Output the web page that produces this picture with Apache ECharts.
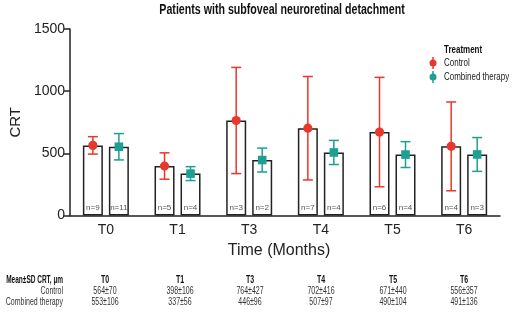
<!DOCTYPE html>
<html><head><meta charset="utf-8">
<script src="https://cdn.jsdelivr.net/npm/echarts@6/dist/echarts.min.js"></script>
<style>html,body{margin:0;padding:0;background:#fff}#c{width:512px;height:312px}</style>
</head><body><div id="c"></div>
<script>
const categories = ['T0','T1','T3','T4','T5','T6'];
const controlMean = [564, 398, 764, 702, 671, 556];
const controlSD = [70, 106, 427, 416, 440, 357];
const combinedMean = [553, 337, 446, 507, 490, 491];
const combinedSD = [106, 56, 96, 97, 104, 136];
const controlN = [9, 5, 3, 7, 6, 4];
const combinedN = [11, 4, 2, 4, 4, 3];
const yTicks = [0, 500, 1000, 1500];
const chartTitle = 'Patients with subfoveal neuroretinal detachment';
const tableHeader = 'Mean±SD CRT, µm';
const rowLabels = ['Control', 'Combined therapy'];
const legendTitle = 'Treatment';
const seriesNames = ['Control', 'Combined therapy'];

const RED = '#E8382C', TEAL = '#1E9F94';
const MAIN = "'Liberation Sans','Noto Sans',sans-serif";
const OFF = 13;

function errRender(offset, color, shape) {
  return function (params, api) {
    const i = api.value(0), m = api.value(1), s = api.value(2);
    const c = api.coord([i, m]);
    const lo = api.coord([i, m - s]);
    const hi = api.coord([i, m + s]);
    const x = c[0] + offset;
    const st = { stroke: color, lineWidth: 1.5 };
    const kids = [
      { type: 'line', shape: { x1: x, y1: lo[1], x2: x, y2: hi[1] }, style: st },
      { type: 'line', shape: { x1: x - 5, y1: lo[1], x2: x + 5, y2: lo[1] }, style: st },
      { type: 'line', shape: { x1: x - 5, y1: hi[1], x2: x + 5, y2: hi[1] }, style: st }
    ];
    if (shape === 'circle') kids.push({ type: 'circle', shape: { cx: x, cy: c[1], r: 4.6 }, style: { fill: color } });
    else kids.push({ type: 'rect', shape: { x: x - 4.3, y: c[1] - 4.3, width: 8.6, height: 8.6 }, style: { fill: color } });
    return { type: 'group', children: kids };
  };
}

function txt(x, y, text, font, fill, align, sx) {
  return { type: 'text', x: x, y: y, scaleX: sx, style: { text: text, font: font, fill: fill, align: align, verticalAlign: 'middle' } };
}

const tableCols = [105, 180, 250, 321, 393, 464];
const SX = 0.7;
const graphics = [];
graphics.push(txt(282, 10, chartTitle, 'bold 14px ' + MAIN, '#111', 'center', 0.76));
graphics.push(txt(63, 280, tableHeader, 'bold 10px ' + MAIN, '#111', 'right', 0.65));
graphics.push(txt(63, 291.5, rowLabels[0], '10px ' + MAIN, '#333', 'right', SX));
graphics.push(txt(63, 302.5, rowLabels[1], '10px ' + MAIN, '#333', 'right', SX));
categories.forEach((c, i) => {
  const x = tableCols[i];
  graphics.push(txt(x, 280, c, 'bold 10px ' + MAIN, '#111', 'center', SX));
  graphics.push(txt(x, 291.5, controlMean[i] + '±' + controlSD[i], '10px ' + MAIN, '#333', 'center', SX));
  graphics.push(txt(x, 302.5, combinedMean[i] + '±' + combinedSD[i], '10px ' + MAIN, '#333', 'center', SX));
});
// legend
graphics.push(txt(444, 50, legendTitle, 'bold 10.5px ' + MAIN, '#111', 'left', 0.76));
[[RED, seriesNames[0], 63], [TEAL, seriesNames[1], 77]].forEach(([col, name, y]) => {
  graphics.push({ type: 'line', shape: { x1: 433, y1: y - 6, x2: 433, y2: y + 6 }, style: { stroke: col, lineWidth: 1.5 } });
  graphics.push({ type: 'circle', shape: { cx: 433, cy: y, r: 3.5 }, style: { fill: col } });
  graphics.push(txt(444, y, name, '10.5px ' + MAIN, '#222', 'left', 0.76));
});

const chart = echarts.init(document.getElementById('c'), null, { renderer: 'canvas' });
chart.setOption({
  animation: false,
  backgroundColor: '#fff',
  grid: { left: 68, right: 12, top: 29, bottom: 96.5 },
  xAxis: {
    type: 'category', data: categories,
    name: 'Time (Months)', nameLocation: 'middle', nameGap: 27,
    nameTextStyle: { fontFamily: MAIN, fontSize: 16, color: '#222', padding: [0, 12, 0, 0] },
    axisLine: { lineStyle: { color: '#222', width: 1.5 } },
    axisTick: { alignWithLabel: true, length: 5, lineStyle: { color: '#222', width: 1.5 } },
    axisLabel: { fontFamily: MAIN, fontSize: 14, color: '#222', margin: 8 }
  },
  yAxis: {
    type: 'value', min: yTicks[0], max: yTicks[yTicks.length - 1], interval: 500,
    name: 'CRT', nameLocation: 'middle', nameGap: 46,
    nameTextStyle: { fontFamily: MAIN, fontSize: 15, color: '#222' },
    splitLine: { show: false },
    axisLine: { show: true, lineStyle: { color: '#222', width: 1.5 } },
    axisTick: { show: true, length: 6, lineStyle: { color: '#222', width: 1.5 } },
    axisLabel: { fontFamily: MAIN, fontSize: 14, color: '#222', margin: 5, formatter: v => String(v) }
  },
  series: [
    {
      type: 'bar', name: seriesNames[0], data: controlMean, barWidth: 20, barGap: '30%',
      itemStyle: { color: '#fff', borderColor: '#222', borderWidth: 1.5 },
      label: { show: true, position: 'insideBottom', distance: 4, fontFamily: MAIN, fontSize: 8, color: '#555',
        formatter: p => 'n=' + controlN[p.dataIndex] }, z: 1
    },
    {
      type: 'bar', name: seriesNames[1], data: combinedMean, barWidth: 20,
      itemStyle: { color: '#fff', borderColor: '#222', borderWidth: 1.5 },
      label: { show: true, position: 'insideBottom', distance: 4, fontFamily: MAIN, fontSize: 8, color: '#555',
        formatter: p => 'n=' + combinedN[p.dataIndex] }, z: 1
    },
    {
      type: 'custom', name: seriesNames[0] + ' SD', renderItem: errRender(-OFF, RED, 'circle'),
      data: controlMean.map((m, i) => [i, m, controlSD[i]]), z: 5, encode: { x: 0, y: 1 }
    },
    {
      type: 'custom', name: seriesNames[1] + ' SD', renderItem: errRender(OFF, TEAL, 'rect'),
      data: combinedMean.map((m, i) => [i, m, combinedSD[i]]), z: 5, encode: { x: 0, y: 1 }
    }
  ],
  graphic: graphics
});
</script></body></html>
